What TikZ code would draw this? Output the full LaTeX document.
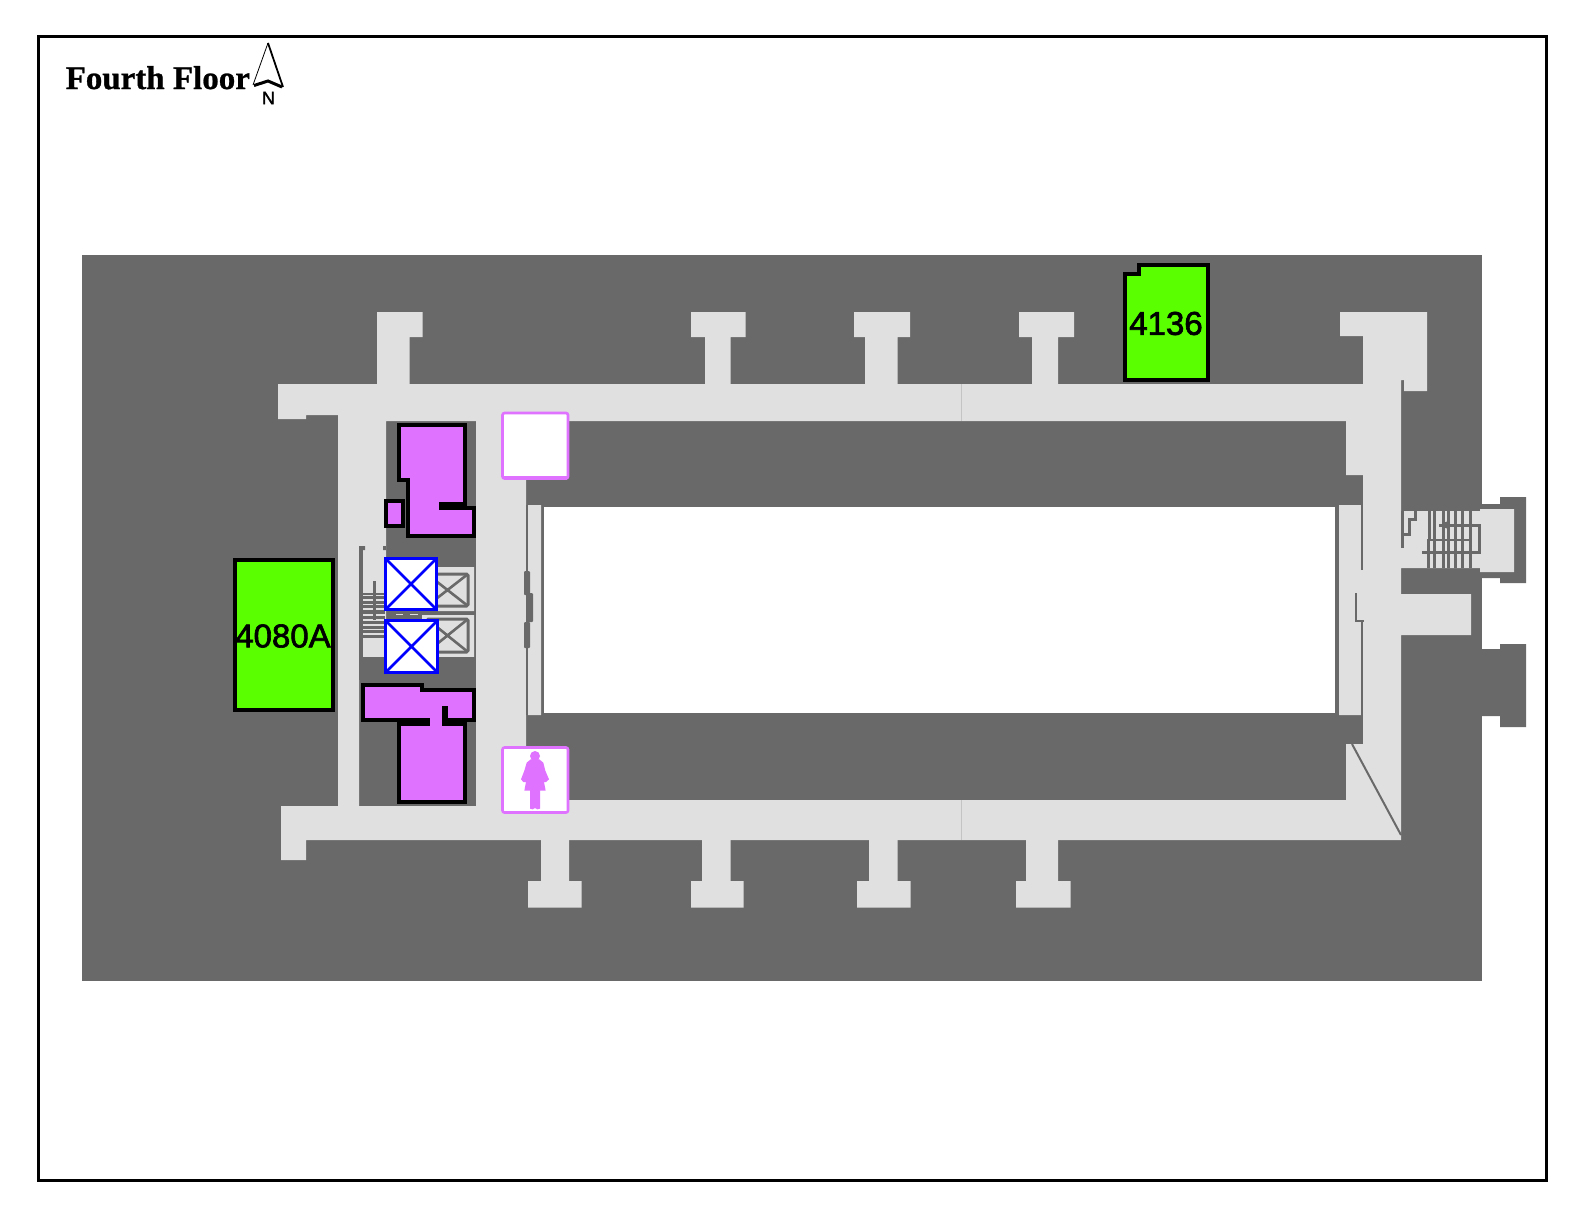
\documentclass[tikz,border=0pt]{standalone}
\usepackage{fontspec}
\setmainfont{Liberation Serif}
\setsansfont{Liberation Sans}
\newfontfamily\roomfont[FakeBold=2]{Liberation Sans}
\newfontfamily\titlefont[FakeBold=0.8]{Liberation Serif Bold}
\definecolor{wallc}{HTML}{696969}
\definecolor{hallc}{HTML}{E0E0E0}
\definecolor{seamc}{HTML}{C4C4C4}
\definecolor{purplec}{HTML}{DF73FF}
\definecolor{greenc}{HTML}{5AFF00}
\tikzset{
  wall/.style={draw=wallc,line width=2pt},
  tread/.style={draw=wallc,line width=3pt},
  gapline/.style={draw=hallc,line width=1.3pt},
  roomp/.style={fill=purplec,draw=black,line width=4pt,miter limit=10},
  roomg/.style={fill=greenc,draw=black,line width=4pt},
  lift/.style={fill=white,draw=blue,line width=3pt},
  liftx/.style={draw=blue,line width=2.6pt},
  oldlift/.style={draw=wallc,line width=3pt,rounded corners=1.5pt},
  wc/.style={fill=white,draw=purplec,line width=2.6pt,rounded corners=2pt},
  roomlabel/.style={font=\roomfont\fontsize{33}{33}\selectfont,text=black,inner sep=0pt},
}
\begin{document}
\begin{tikzpicture}[x=1pt,y=-1pt]
\useasboundingbox (0,0) rectangle (1584,1224);
\fill[white] (0,0) rectangle (1584,1224);
\draw[black,line width=3pt] (38.5,36.5) rectangle (1546,1180);
% building mass
\fill[wallc] (82,255) rectangle (1481.5,981);
\fill[wallc] (1481,504) rectangle (1500,578) (1500,497) rectangle (1526,583);
\fill[wallc] (1481,649) rectangle (1500,716) (1500,644) rectangle (1526,727);
% corridors
\fill[hallc]
  (278,384) rectangle (306,419)
  (306,384) rectangle (386,415)
  (386,384) rectangle (1401,421)
  (338,415) rectangle (386,546)
  (338,546) rectangle (359,807)
  (363,546) rectangle (386,657)
  (476,421) rectangle (526,807)
  (281,807) rectangle (306,860)
  (281,806) rectangle (526,840)
  (526,800) rectangle (1401,840)
  (528,505) rectangle (541,715)
  (1339,505) rectangle (1361,715)
  (1346,421) rectangle (1401,475)
  (1363,380) rectangle (1401,840)
  (1361,570) rectangle (1363,622)
  (1346,744) rectangle (1363,800)
  (1340,312) rectangle (1427,336)
  (1363,336) rectangle (1401,384)
  (1401,312) rectangle (1404,380)
  (1404,312) rectangle (1427,391)
  (1401,511) rectangle (1480,568)
  (1480,509) rectangle (1514,572)
  (1401,594) rectangle (1471,635);
% north wings
\fill[hallc]
  (377,312) rectangle (422.5,337) (377,337) rectangle (409.5,384)
  (691,312) rectangle (745.5,337) (705,337) rectangle (730.5,384)
  (854,312) rectangle (910,337) (865,337) rectangle (897.5,384)
  (1019,312) rectangle (1074,337) (1032,337) rectangle (1058,384);
% south wings
\fill[hallc]
  (541,840) rectangle (569,881) (528,881) rectangle (581.5,907.5)
  (702,840) rectangle (730.5,881) (691,881) rectangle (743.5,907.5)
  (869,840) rectangle (897.5,881) (857,881) rectangle (910.5,907.5)
  (1026,840) rectangle (1058,881) (1016,881) rectangle (1070.5,907.5);
% courtyard
\fill[white] (544,507) rectangle (1335,713);
% seams in the corridors
\draw[seamc,line width=0.6pt] (961,384) -- (961,421) (961,800) -- (961,840);
% walls on the courtyard strips
\draw[wall] (527,505) -- (527,715);
\fill[wallc,rounded corners=1pt] (524,571) rectangle (530,595) (527,593) rectangle (533,622) (524,622) rectangle (530,648);
\draw[wall] (1362,505) -- (1362,570) (1356,593) -- (1356,621) -- (1364,621) (1362,621) -- (1362,715);
\draw[wallc,line width=2pt] (1352,744) -- (1401,835);
% east stair
\draw[wall,line width=3pt] (1402.5,511) -- (1402.5,548);
\draw[wall,line width=3pt] (1415,511) -- (1415,519) -- (1409,519) -- (1409,534) -- (1403,534);
\foreach \tx in {1434,1443,1448.3,1455,1462.3,1470.7} {\draw[tread] (\tx,511) -- (\tx,568);}
\draw[tread] (1429.5,511) -- (1429.5,540);
\draw[tread] (1428.5,540) -- (1428.5,568);
\draw[wall,line width=3pt] (1439,525) -- (1479,525) -- (1479,552) -- (1422,552);
\draw[wall,line width=2.2pt] (1427,540) -- (1472,540);
\fill[wallc] (1447,525) circle (3.5);
% old lift shaft panels
\fill[hallc] (438,567) rectangle (474,611) (422,615) rectangle (474,657);
\draw[oldlift] (427,574) rectangle (468,606);
\draw[oldlift] (427,619) rectangle (468,652);
\draw[wallc,line width=2.6pt] (427,574) -- (468,606) (427,606) -- (468,574);
\draw[wallc,line width=2.6pt] (427,619) -- (468,652) (427,652) -- (468,619);
% west stair
\draw[wall,line width=4pt] (361,546) -- (361,657);
\fill[wallc] (359,546) rectangle (365,550) (383,546) rectangle (386,550);
\fill[wallc] (363,593) rectangle (385,638);
\foreach \ty in {595.5,600,604.5,609,615,620,625,629.5,634} {\draw[gapline] (363,\ty) -- (385,\ty);}
\draw[wall,line width=3pt] (374.5,581) -- (374.5,620);
\draw[gapline] (396,614.5) -- (403,614.5) (410,614.5) -- (418,614.5);
% lower dark band of the lift lobby
\fill[wallc] (359,657) rectangle (476,680);
% purple rooms
\path[roomp] (399,425) -- (465,425) -- (465,504) -- (441,504) -- (441,508) -- (474,508) -- (474,536) -- (408,536) -- (408,480) -- (399,480) -- cycle;
\path[roomp] (386,501) rectangle (403,526);
\path[roomp] (363,685) -- (422,685) -- (422,690) -- (474,690) -- (474,720) -- (446,720) -- (446,708) -- (444,708) -- (444,724) -- (465,724) -- (465,802) -- (399,802) -- (399,724) -- (428,724) -- (428,720) -- (363,720) -- cycle;
% lifts
\path[lift] (385.5,558.5) rectangle (436.5,609.5);
\draw[liftx] (385.5,558.5) -- (436.5,609.5) (385.5,609.5) -- (436.5,558.5);
\path[lift] (385.5,620.5) rectangle (437.5,672.5);
\draw[liftx] (385.5,620.5) -- (437.5,672.5) (385.5,672.5) -- (437.5,620.5);
% washrooms
\path[wc] (502.5,413) rectangle (568,478.5);
\draw[purplec,line width=3.5pt] (504,478) -- (566.5,478);
\path[wc] (502.5,747.5) rectangle (568,812.5);
\fill[purplec] (535,756) circle (5);
\begin{scope}[shift={(490,730)},x=0.3333pt,y=-0.3333pt]
\fill[purplec] (122,88) -- (148,88) -- (160,98) -- (166,122) -- (177,148) -- (168,156) -- (162,156) -- (167,182) -- (150,182) -- (150,236) -- (142,238) -- (135,234) -- (128,238) -- (120,236) -- (120,182) -- (103,182) -- (108,156) -- (100,156) -- (93,148) -- (103,122) -- (110,98) -- cycle;
\end{scope}
% green rooms
\path[roomg] (234.5,559.5) rectangle (332.5,709.5);
\node[roomlabel] (r4080a) at (283,636) {4080A};
\path[roomg] (1125,274) -- (1139,274) -- (1139,265) -- (1208,265) -- (1208,380) -- (1125,380) -- cycle;
\node[roomlabel] (r4136) at (1166,323.5) {4136};
% title and north arrow
\node[anchor=base west,inner sep=0pt,font=\titlefont\fontsize{33}{33}\selectfont] (title) at (65.5,89) {Fourth Floor};
\fill[white] (268,43) -- (283,87) -- (268,81) -- (253,85) -- cycle;
\draw[black,line width=0.8pt] (268,43) -- (253,85);
\draw[black,line width=1.8pt] (268,43) -- (283,87);
\draw[black,line width=3pt] (254,85.5) -- (268,81) -- (282,87);
\node[font=\roomfont\fontsize{18}{18}\selectfont,inner sep=0pt] (north) at (268.5,98) {N};
\end{tikzpicture}
\end{document}
